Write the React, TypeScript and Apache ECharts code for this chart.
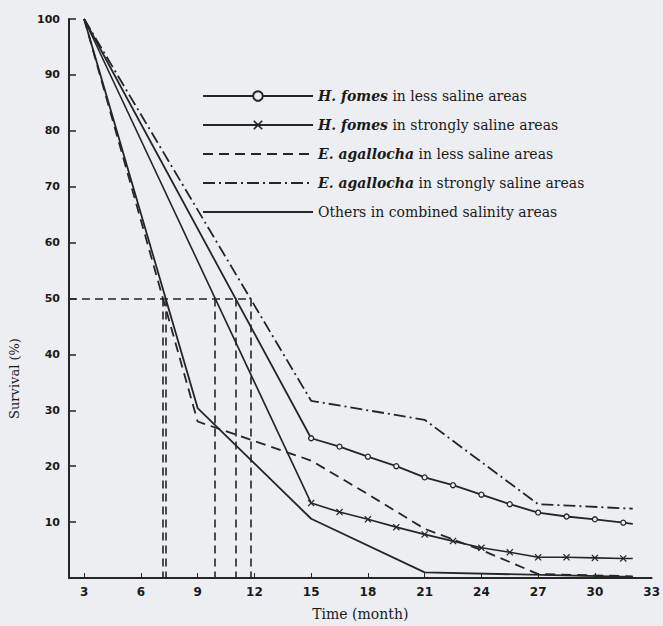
import React, { useEffect, useRef } from "react";
import * as echarts from "echarts";

const xTickLabels = [3, 6, 9, 12, 15, 18, 21, 24, 27, 30, 33];
const xTickMarks = [3, 6, 9, 12, 15, 18, 21, 24, 27, 30];
const yTickLabels = [10, 20, 30, 40, 50, 60, 70, 80, 90, 100];

const seriesNames = [
  "H. fomes in less saline areas",
  "H. fomes in strongly saline areas",
  "E. agallocha in less saline areas",
  "E. agallocha in strongly saline areas",
  "Others in combined salinity areas",
];

const hFomesLessMonths = [3, 15, 16.5, 18, 19.5, 21, 22.5, 24, 25.5, 27, 28.5, 30, 31.5, 32];
const hFomesLessSurvival = [100, 25, 23.5, 21.7, 20.0, 18.0, 16.6, 14.9, 13.2, 11.7, 11.0, 10.5, 9.9, 9.7];

const hFomesStrongMonths = [3, 15, 16.5, 18, 19.5, 21, 22.5, 24, 25.5, 27, 28.5, 30, 31.5, 32];
const hFomesStrongSurvival = [100, 13.4, 11.8, 10.5, 9.1, 7.8, 6.6, 5.4, 4.6, 3.7, 3.7, 3.6, 3.5, 3.5];

const eAgalLessMonths = [3, 9, 15, 18, 21, 24, 27, 32];
const eAgalLessSurvival = [100, 28, 21, 15, 8.8, 5, 0.7, 0.3];

const eAgalStrongMonths = [3, 15, 21, 27, 32];
const eAgalStrongSurvival = [100, 31.7, 28.3, 13.2, 12.4];

const othersMonths = [3, 9, 15, 21, 32];
const othersSurvival = [100, 30.4, 10.6, 1.0, 0.2];

const HALF = 50;
const X_MIN = 2.2;
const X_MAX = 33;

const BG = "#edeef1";
const INK = "#252525";
const CLEAR = "rgba(0,0,0,0)";
const SERIF = "'DejaVu Serif', 'Liberation Serif', serif";
const SANS = "'DejaVu Sans', 'Liberation Sans', sans-serif";

const X_SYMBOL =
  "path://M0,1.2L1.2,0L5,3.8L8.8,0L10,1.2L6.2,5L10,8.8L8.8,10L5,6.2L1.2,10L0,8.8L3.8,5Z";

function crossing(months: number[], vals: number[], level: number): number | null {
  for (let i = 0; i < vals.length - 1; i++) {
    if (vals[i] >= level && vals[i + 1] < level) {
      return months[i] + ((vals[i] - level) / (vals[i] - vals[i + 1])) * (months[i + 1] - months[i]);
    }
  }
  return null;
}

function pairs(months: number[], vals: number[], markEnds = false) {
  return months.map((m, i) => {
    if (markEnds && (i === 0 || i === months.length - 1)) {
      return { value: [m, vals[i]], symbol: "none" };
    }
    return { value: [m, vals[i]] };
  });
}

export default function App() {
  const ref = useRef<HTMLDivElement>(null);

  useEffect(() => {
    const chart = echarts.init(ref.current!, null, { renderer: "svg" });

    const allSeries = [
      [hFomesLessMonths, hFomesLessSurvival],
      [hFomesStrongMonths, hFomesStrongSurvival],
      [eAgalLessMonths, eAgalLessSurvival],
      [eAgalStrongMonths, eAgalStrongSurvival],
      [othersMonths, othersSurvival],
    ];
    const crosses = allSeries
      .map(([m, v]) => crossing(m, v, HALF))
      .filter((c): c is number => c !== null);
    const maxCross = Math.max(...crosses);

    const guideLines: any[] = [
      [{ coord: [X_MIN, HALF] }, { coord: [maxCross, HALF] }],
      ...crosses.map((c) => [{ coord: [c, HALF] }, { coord: [c, 0] }]),
    ];

    const option: any = {
      animation: false,
      backgroundColor: BG,
      grid: { left: 69, right: 3, top: 19, bottom: 43, containLabel: false },
      legend: {
        orient: "vertical",
        left: 197,
        top: 83,
        itemWidth: 110,
        itemHeight: 12,
        itemGap: 13,
        data: seriesNames,
        formatter: (name: string) =>
          name.replace(/^(H\. fomes|E\. agallocha)/, "{i|$1}"),
        textStyle: {
          fontFamily: SERIF,
          fontSize: 14,
          color: "#1a1a1a",
          lineHeight: 16,
          rich: {
            i: {
              fontFamily: SERIF,
              fontSize: 14,
              fontWeight: "bold",
              fontStyle: "italic",
              color: "#1a1a1a",
              lineHeight: 16,
            },
          },
        },
      },
      xAxis: {
        type: "value",
        min: X_MIN,
        max: X_MAX,
        name: "Time (month)",
        nameLocation: "middle",
        nameGap: 29,
        nameTextStyle: { fontFamily: SERIF, fontSize: 14, color: "#1a1a1a" },
        axisLine: { show: true, onZero: false, lineStyle: { color: INK, width: 2 } },
        axisTick: { show: true, inside: true, length: 5, customValues: xTickMarks, lineStyle: { color: INK, width: 1 } },
        axisLabel: {
          customValues: xTickLabels,
          margin: 8,
          fontFamily: SANS,
          fontSize: 12,
          fontWeight: "bold",
          color: "#1a1a1a",
        },
        splitLine: { show: false },
      },
      yAxis: {
        type: "value",
        min: 0,
        max: 100,
        name: "Survival (%)",
        nameLocation: "middle",
        nameRotate: 90,
        nameGap: 48,
        nameTextStyle: {
          fontFamily: SERIF,
          fontSize: 13,
          color: "#1a1a1a",
          padding: [0, 160, 0, 0],
        },
        axisLine: { show: true, onZero: false, lineStyle: { color: INK, width: 2 } },
        axisTick: { show: true, inside: true, length: 7, customValues: yTickLabels, lineStyle: { color: INK, width: 1.5 } },
        axisLabel: {
          customValues: yTickLabels,
          margin: 9,
          fontFamily: SANS,
          fontSize: 11,
          fontWeight: "bold",
          color: "#1a1a1a",
        },
        splitLine: { show: false },
      },
      series: [
        {
          name: seriesNames[0],
          type: "line",
          data: pairs(hFomesLessMonths, hFomesLessSurvival, true),
          symbol: "circle",
          symbolSize: 5,
          itemStyle: { color: BG, borderColor: INK, borderWidth: 1.3 },
          lineStyle: { color: INK, width: 1.8, type: "solid" },
        },
        {
          name: seriesNames[1],
          type: "line",
          data: pairs(hFomesStrongMonths, hFomesStrongSurvival, true),
          symbol: X_SYMBOL,
          symbolSize: 7,
          itemStyle: { color: INK },
          lineStyle: { color: INK, width: 1.6, type: "solid" },
        },
        {
          name: seriesNames[2],
          type: "line",
          data: pairs(eAgalLessMonths, eAgalLessSurvival),
          symbol: "none",
          itemStyle: { color: CLEAR, borderWidth: 0 },
          lineStyle: { color: INK, width: 1.8, type: [10, 6] },
        },
        {
          name: seriesNames[3],
          type: "line",
          data: pairs(eAgalStrongMonths, eAgalStrongSurvival),
          symbol: "none",
          itemStyle: { color: CLEAR, borderWidth: 0 },
          lineStyle: { color: INK, width: 1.8, type: [12, 4, 2, 4] },
        },
        {
          name: seriesNames[4],
          type: "line",
          data: pairs(othersMonths, othersSurvival),
          symbol: "none",
          itemStyle: { color: CLEAR, borderWidth: 0 },
          lineStyle: { color: INK, width: 1.8, type: "solid" },
        },
        {
          name: "guides",
          type: "line",
          data: [],
          silent: true,
          markLine: {
            silent: true,
            symbol: ["none", "none"],
            label: { show: false },
            lineStyle: { color: INK, width: 1.6, type: [8, 5] },
            emphasis: { disabled: true },
            data: guideLines,
          },
        },
      ],
    };

    chart.setOption(option);
    return () => chart.dispose();
  }, []);

  return (
    <div
      ref={ref}
      style={{ position: "absolute", left: 0, top: 0, width: 663, height: 626 }}
    />
  );
}
